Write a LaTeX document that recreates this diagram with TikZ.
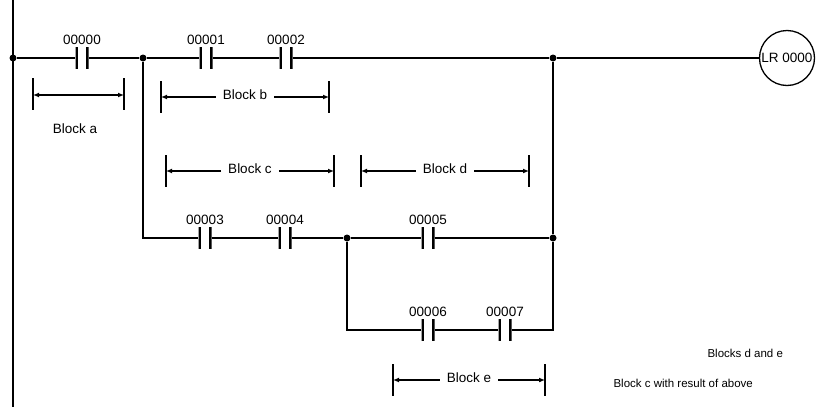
\documentclass[tikz,border=0pt]{standalone}
\usepackage{fontspec}
\setmainfont{Liberation Sans}
\usetikzlibrary{arrows.meta,positioning}
\tikzset{
  wire/.style={line width=1.3pt},
  dot/.style={circle, fill, inner sep=0pt, minimum size=7pt},
  contact/.style={rectangle, inner sep=0pt, minimum width=13pt, minimum height=22pt,
    path picture={\draw[line width=2.4pt] ([xshift=1pt]path picture bounding box.north west) -- ([xshift=1pt]path picture bounding box.south west)
      ([xshift=-1pt]path picture bounding box.north east) -- ([xshift=-1pt]path picture bounding box.south east);}},
  lbl/.style={font=\fontsize{13.5}{16}\selectfont},
  note/.style={font=\fontsize{11.5}{14}\selectfont, anchor=west},
  dim/.style={line width=1.3pt, -{Latex[length=6pt,width=5pt]}},
  bar/.style={line width=1.3pt}
}
\begin{document}
\begin{tikzpicture}[x=1pt,y=-1pt]
\useasboundingbox (0,0) rectangle (817,407);
\clip (0,0) rectangle (817,407);
% rail and junctions
\coordinate (railtop) at (13,0);
\coordinate (railbot) at (13,407);
\draw[wire] (railtop) -- (railbot);
\node[dot] (j0) at (13,58) {};
\node[dot] (j1) at (143,58) {};
\node[dot] (j2) at (553,58) {};
\node[dot] (j3) at (347,238) {};
\node[dot] (j4) at (553,238) {};
\coordinate (k1) at (143,238);
\coordinate (k2) at (347,330);
\coordinate (k3) at (553,330);
% contacts
\foreach \name/\x/\y/\txt in {c0/82/58/00000, c1/206/58/00001, c2/286/58/00002,
  c3/205/238/00003, c4/285/238/00004, c5/428/238/00005,
  c6/428/330/00006, c7/505/330/00007}{
  \node[contact] (\name) at (\x,\y) {};
  \node[lbl, above=-1pt of \name] {\txt};
}
\node[circle, draw, line width=1.3pt, minimum size=55pt, inner sep=0pt, lbl] (lr) at (787,58) {LR 0000};
% wires
\draw[wire] (j0) -- (c0) -- (j1) -- (c1) -- (c2) -- (j2) -- (lr);
\draw[wire] (j1) -- (k1) -- (c3) -- (c4) -- (j3) -- (c5) -- (j4) -- (j2);
\draw[wire] (j3) -- (k2) -- (c6) -- (c7) -- (k3) -- (j4);
% block a
\draw[bar] (33,78) -- (33,110) (124,78) -- (124,110);
\coordinate (a1) at (33,95);
\coordinate (a2) at (124,95);
\draw[line width=1.3pt, {Latex[length=6pt,width=5pt]}-{Latex[length=6pt,width=5pt]}] (a1) -- (a2);
\node[lbl] (ta) at (75,129) {Block a};
% blocks b..e
\foreach \name/\xa/\xb/\y/\txt in {b/161/329/97/Block b, c/166/334/171/Block c,
  d/361/529/171/Block d, e/393/545/380/Block e}{
  \draw[bar] (\xa,\y-16) -- (\xa,\y+16) (\xb,\y-16) -- (\xb,\y+16);
  \coordinate (\name l) at (\xa,\y);
  \coordinate (\name r) at (\xb,\y);
  \node[lbl, fill=white, inner xsep=7pt] (t\name) at ({(\xa+\xb)/2},\y-2) {\txt};
  \draw[dim] (t\name.west |- \name l) -- (\name l);
  \draw[dim] (t\name.east |- \name r) -- (\name r);
}
\node[note] (n1) at (704,353) {Blocks d and e};
\node[note] (n2) at (610,383) {Block c with result of above};
\end{tikzpicture}
\end{document}
